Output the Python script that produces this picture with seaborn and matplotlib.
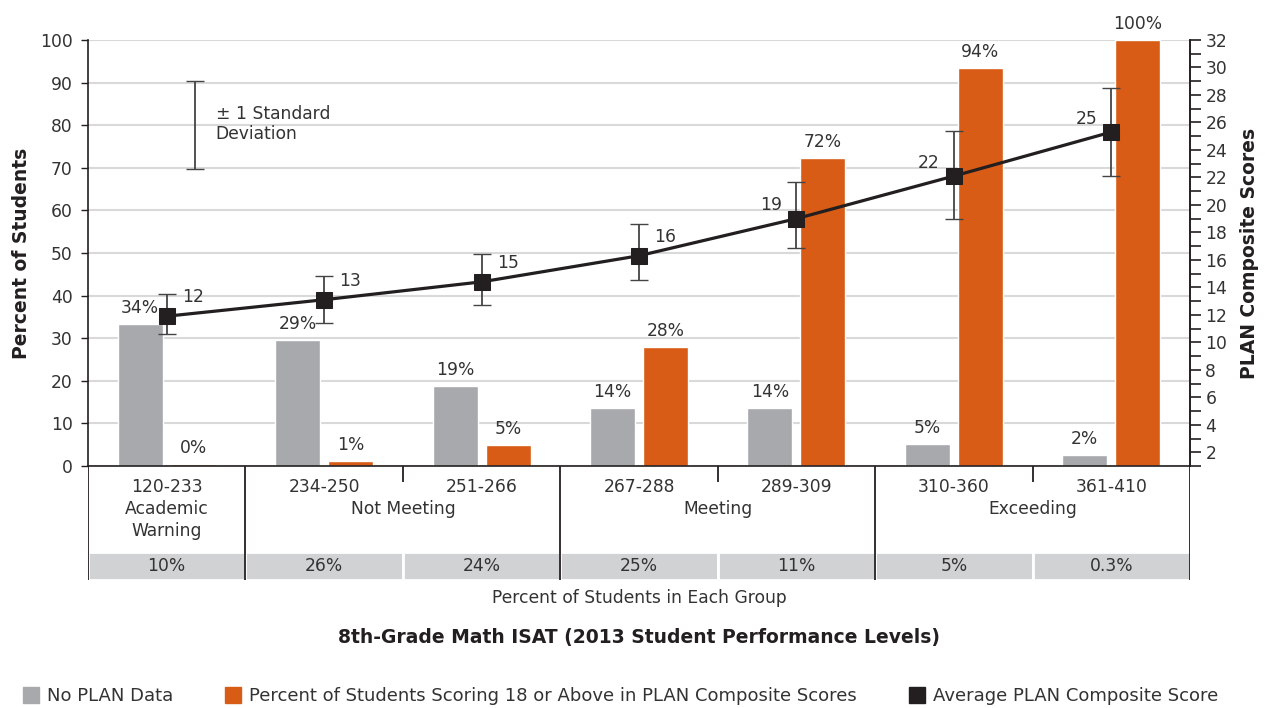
import numpy as np
import pandas as pd
import matplotlib
matplotlib.use("Agg")
import matplotlib.pyplot as plt
from matplotlib.lines import Line2D
import seaborn as sns

ranges = ["120-233", "234-250", "251-266", "267-288", "289-309", "310-360", "361-410"]
groups = ["Academic\nWarning", "Not Meeting", "Meeting", "Exceeding"]
group_span = [(0, 0), (1, 2), (3, 4), (5, 6)]
pct_in_group = ["10%", "26%", "24%", "25%", "11%", "5%", "0.3%"]

no_plan = [33.4, 29.6, 18.8, 13.7, 13.7, 5.2, 2.6]
no_plan_labels = ["34%", "29%", "19%", "14%", "14%", "5%", "2%"]
above18 = [0.4, 1.2, 5.0, 27.9, 72.2, 93.4, 100.0]
above18_labels = ["0%", "1%", "5%", "28%", "72%", "94%", "100%"]

avg_score = [11.9, 13.1, 14.4, 16.3, 19.0, 22.1, 25.3]
avg_labels = ["12", "13", "15", "16", "19", "22", "25"]
sd_low = [10.6, 11.4, 12.7, 14.5, 16.9, 19.0, 22.1]
sd_high = [13.5, 14.8, 16.4, 18.6, 21.7, 25.4, 28.5]

GREY = "#a7a9ac"
ORANGE = "#d85c15"
BLACK = "#231f20"
TXT = "#333333"
FS = 12.3
s1 = "No PLAN Data"
s2 = "Percent of Students Scoring 18 or Above in PLAN Composite Scores"
s3 = "Average PLAN Composite Score"

sns.set_theme(style="white")
plt.rcParams["font.family"] = ["DejaVu Sans"]
plt.rcParams["text.color"] = TXT

df = pd.DataFrame({
    "range": ranges * 2,
    "series": [s1] * 7 + [s2] * 7,
    "value": no_plan + above18,
})

fig = plt.figure(figsize=(12.65, 7.08), dpi=100)
W, H = 1265, 708
ax = fig.add_axes([88 / W, 1 - 466 / H, 1102 / W, 426 / H])

sns.barplot(data=df, x="range", y="value", hue="series", order=ranges,
            hue_order=[s1, s2], palette=[GREY, ORANGE], saturation=1,
            width=0.672, gap=0.15, legend=False, ax=ax)

for cont, labs in zip(ax.containers, [no_plan_labels, above18_labels]):
    ax.bar_label(cont, labels=labs, padding=5, fontsize=FS, color=TXT, clip_on=False)

ax.set_xlim(-0.5, 6.5)
ax.set_ylim(0, 100)
ax.set_yticks(np.arange(0, 101, 10))
ax.set_xticks([])
ax.set_xlabel("")
ax.grid(axis="y", color="#d9d9d9", lw=1.5)
ax.set_axisbelow(True)
ax.tick_params(axis="y", left=True, length=5, width=1, color=BLACK, labelsize=FS,
               labelcolor=TXT, pad=6)
ax.spines["top"].set_visible(False)
for side in ["left", "bottom", "right"]:
    ax.spines[side].set_color(BLACK)
    ax.spines[side].set_linewidth(1.2)
ax.set_ylabel("Percent of Students", fontsize=13.5, fontweight="bold", color=BLACK)
ax.yaxis.set_label_coords(-0.052, 0.5)

# standard deviation key
ax.errorbar([0.18], [80.1], yerr=[[10.3], [10.3]], fmt="none", ecolor="#444444",
            elinewidth=1.3, capsize=6.5)
ax.text(0.31, 80.2, "± 1 Standard\nDeviation", fontsize=FS, color=TXT,
        ha="left", va="center", linespacing=1.15)

# average score line on the right axis
ax2 = ax.twinx()
x = np.arange(len(ranges))
yerr = [np.array(avg_score) - np.array(sd_low), np.array(sd_high) - np.array(avg_score)]
ax2.errorbar(x, avg_score, yerr=yerr, fmt="none", ecolor="#444444", elinewidth=1.3,
             capsize=6.5, zorder=3)
sns.lineplot(x=x, y=avg_score, color=BLACK, lw=2.3, marker="s", markersize=11,
             markeredgecolor=BLACK, ax=ax2, zorder=4)
ax2.set_ylim(1, 32)
ax2.set_xlim(-0.5, 6.5)
ax2.set_yticks(np.arange(2, 33, 2))
ax2.set_yticks(np.arange(1, 33, 1), minor=True)
ax2.tick_params(axis="y", which="both", right=True, length=8, width=1.2, color=BLACK,
                labelsize=FS, labelcolor=TXT, pad=3)
ax2.grid(False)
for side in ["top", "left", "bottom"]:
    ax2.spines[side].set_visible(False)
ax2.spines["right"].set_color(BLACK)
ax2.spines["right"].set_linewidth(1.2)
ax2.set_ylabel("PLAN Composite Scores", fontsize=13.5, fontweight="bold", color=BLACK)
ax2.yaxis.set_label_coords(1.0454, 0.5)

for i, (v, lab) in enumerate(zip(avg_score, avg_labels)):
    if i < 4:
        ax2.annotate(lab, (i, v), xytext=(11, 7), textcoords="offset points",
                     fontsize=FS, color=TXT, ha="left", va="bottom")
    else:
        ax2.annotate(lab, (i, v), xytext=(-10, 3), textcoords="offset points",
                     fontsize=FS, color=TXT, ha="right", va="bottom")

# category table under the chart
at = fig.add_axes([88 / W, 1 - 580 / H, 1102 / W, 114 / H])
at.set_xlim(-0.5, 6.5)
at.set_ylim(580, 466)
at.axis("off")
at.bar(x, height=28, bottom=552, width=1.0, color="#d1d2d4", edgecolor="white", lw=2)
at.vlines([-0.5, 0.5, 2.5, 4.5, 6.5], 466, 580, color=BLACK, lw=1.3)
at.vlines([1.5, 3.5, 5.5], 466, 482, color=BLACK, lw=1.3)
for i, r in enumerate(ranges):
    at.text(i, 487, r, ha="center", va="center", fontsize=FS, color=TXT)
    at.text(i, 566, pct_in_group[i], ha="center", va="center", fontsize=FS, color=TXT)
for g, (a, b) in zip(groups, group_span):
    at.text((a + b) / 2, 500, g, ha="center", va="top", fontsize=FS, color=TXT,
            linespacing=1.25)

fig.text(639 / W, 1 - 598 / H, "Percent of Students in Each Group", ha="center",
         va="center", fontsize=FS, color=TXT)
fig.text(639 / W, 1 - 638 / H, "8th-Grade Math ISAT (2013 Student Performance Levels)",
         ha="center", va="center", fontsize=13.5, fontweight="bold", color=BLACK)

handles = [Line2D([], [], ls="none", marker="s", markersize=12, color=c, markeredgecolor=c)
           for c in [GREY, ORANGE, BLACK]]
fig.legend(handles, [s1, s2, s3], loc="center", bbox_to_anchor=(0.491, 1 - 696 / H),
           ncol=3, frameon=False, fontsize=13, handlelength=0.8, handletextpad=0.5,
           columnspacing=2.9, labelcolor=TXT)

fig.savefig("out.png", dpi=100)
